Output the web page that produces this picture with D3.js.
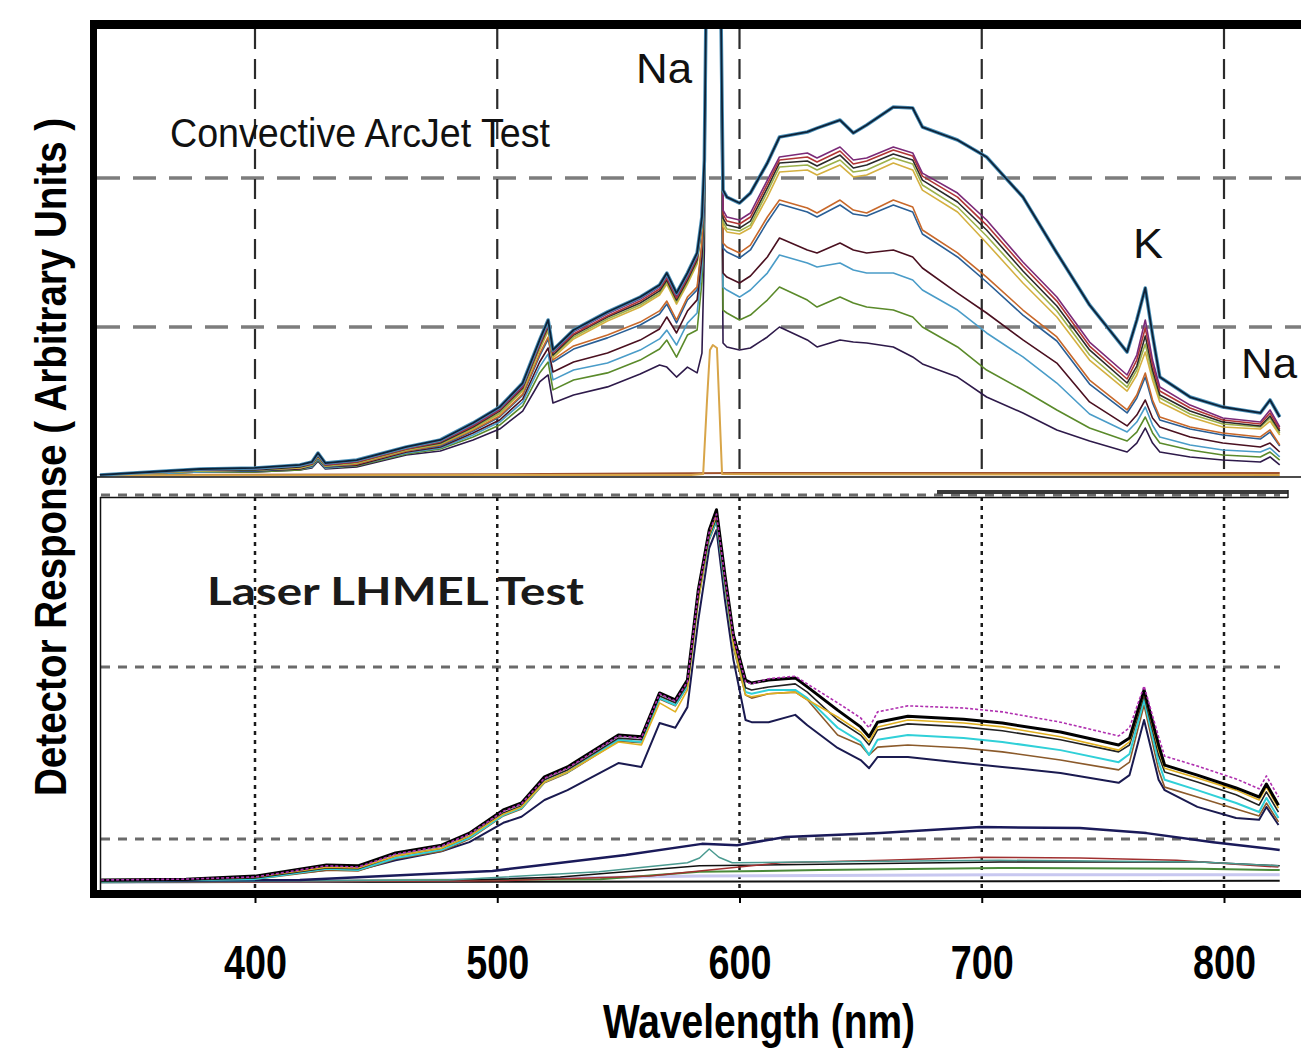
<!DOCTYPE html>
<html>
<head>
<meta charset="utf-8">
<script src="https://cdn.jsdelivr.net/npm/d3@7"></script>
<style>
  body { margin: 0; background: #fff; }
  svg { display: block; }
</style>
</head>
<body>
<svg id="chart" width="1301" height="1052"></svg>
<script>
// ---------------- Convective ArcJet Test (upper panel, counts) ----------------
const arcjetWavelengths = [336, 356.5, 377.5, 400, 418.5, 423.5, 426, 429, 442, 462.5, 476.5, 490, 501, 510.5, 517.5, 521, 523, 531.5, 545.5, 559, 567, 570, 574, 578.5, 582.5, 584.5, 585.5, 586.5, 589, 592, 593.2, 594.8, 600, 604.5, 611.5, 616.5, 628, 632, 641.5, 647, 652.5, 663.5, 671.5, 675.5, 690, 702, 717, 731, 744.5, 760, 764, 767.5, 770.5, 773.5, 786, 799.5, 815, 819, 823];

const arcjetRun01 = [7,27,47,54,74,94,154,87,107,195,242,356,463,624,913,1047,846,980,1101,1201,1282,1362,1228,1362,1497,1738,2121, 3600,4000,3600, 1919,1872,1832,1899,2101,2275,2309,2335,2389,2302,2356,2476,2470,2342,2255,2141,1872,1497,1148,832,1047,1262,946,664,530,463,423,510,396];
const arcjetRun02 = [7,27,40,47,67,87,147,80,100,188,235,343,450,604,893,1027,833,967,1088,1188,1269,1342,1208,1342,1477,1718,2087, 3600,4000,3600, 1785,1738,1718,1765,1986,2141,2168,2134,2208,2121,2134,2208,2168,2033,1899,1718,1436,1201,899,678,812,1047,778,597,476,389,362,443,329];
const arcjetRun03 = [7,20,40,47,67,81,141,74,94,182,229,336,443,597,879,1013,826,953,1074,1174,1255,1328,1194,1328,1463,1704,2067, 3600,4000,3600, 1758,1711,1691,1738,1960,2121,2141,2107,2181,2094,2114,2188,2148,2013,1872,1684,1409,1174,872,651,778,993,745,570,456,376,349,423,315];
const arcjetRun04 = [7,27,40,40,61,81,134,74,94,182,222,329,436,590,873,1000,812,946,1067,1161,1242,1315,1181,1315,1450,1691,2054, 3600,4000,3600, 1731,1684,1664,1711,1933,2101,2114,2080,2154,2067,2087,2161,2121,1986,1839,1651,1376,1141,846,624,738,940,711,544,436,362,336,403,302];
const arcjetRun05 = [7,20,34,40,61,74,134,67,87,175,215,322,423,577,859,987,806,933,1054,1147,1228,1302,1168,1302,1437,1678,2040, 3600,4000,3600, 1705,1658,1644,1684,1906,2074,2087,2054,2121,2040,2054,2134,2094,1953,1805,1611,1342,1107,812,597,711,886,678,523,416,349,329,389,289];
const arcjetRun06 = [7,20,34,40,54,74,127,67,87,175,215,316,416,570,846,973,792,920,1040,1134,1215,1288,1154,1288,1423,1664,2020, 3600,4000,3600, 1678,1638,1624,1664,1872,2040,2054,2020,2087,2007,2020,2101,2054,1919,1772,1564,1295,1067,778,570,678,832,644,497,396,329,315,369,275];
const arcjetRun07 = [7,20,34,40,54,74,127,67,80,168,208,309,403,550,819,933,779,873,947,1033,1108,1174,1047,1201,1269,1570,1953, 3600,4000,3600, 1564,1537,1497,1550,1738,1852,1799,1765,1852,1785,1765,1852,1805,1651,1497,1335,1114,933,644,443,544,691,510,396,329,289,262,309,208];
const arcjetRun08 = [7,20,34,34,54,67,120,60,80,168,202,302,396,543,806,919,765,852,927,1013,1087,1154,1027,1181,1249,1550,1920, 3600,4000,3600, 1530,1503,1463,1517,1705,1825,1772,1738,1819,1758,1745,1819,1772,1624,1470,1302,1080,906,617,423,523,664,490,376,315,275,248,295,201];
const arcjetRun09 = [7,20,34,34,47,67,120,60,73,161,195,289,376,517,765,859,698,765,826,912,987,1067,960,1107,1182,1470,1853, 3600,4000,3600, 1362,1335,1295,1342,1470,1597,1517,1497,1564,1517,1497,1517,1470,1396,1228,1094,913,758,497,336,409,510,389,329,262,221,195,221,161];
const arcjetRun10 = [7,13,27,34,47,60,114,54,73,155,188,275,362,496,732,819,645,712,759,845,920,979,879,1026,1094,1402,1785, 3600,4000,3600, 1268,1248,1201,1248,1362,1483,1429,1403,1429,1382,1362,1362,1315,1248,1114,960,799,624,416,295,362,463,342,262,208,174,161,188,128];
const arcjetRun11 = [7,13,27,27,40,60,107,54,67,148,182,262,342,470,692,765,578,644,692,778,852,912,798,946,980,1302,1718, 3600,4000,3600, 1114,1094,1047,1080,1181,1268,1181,1134,1201,1161,1134,1114,1067,1000,866,711,577,443,322,235,295,396,289,221,174,141,128,161,107];
const arcjetRun12 = [3,13,27,27,40,54,100,47,60,141,168,242,315,436,631,678,490,544,598,684,745,731,664,731,692,825,1517, 3600,4000,3600, 893,866,846,859,933,1000,913,866,913,899,893,866,799,752,664,530,423,309,235,161,221,322,221,161,128,107,94,128,74];

// low-signal runs: only the Na doublet shows, and a near-zero trace
const arcjetNaOnlyWavelengths = [336, 580, 585, 586.6, 587.8, 589, 590.7, 591.9, 592.8, 823];
const arcjetNaOnly = [5, 7, 13, 510, 846, 879, 859, 376, 13, 7];
const arcjetDarkWavelengths = [336, 450, 520, 600, 700, 823];
const arcjetDark = [7, 10, 13, 20, 20, 20];

// ---------------- Laser LHMEL Test (lower panel, counts) ----------------
const lhmelWavelengths = [336.5, 371.5, 400, 429.5, 442.5, 458, 477, 488.5, 502.5, 510, 519.5, 529, 550, 559.5, 567, 573.5, 578.5, 583, 587.5, 590.5, 594, 597.5, 602.5, 605, 612, 623, 628, 640.5, 650, 653.5, 657, 669.5, 692.5, 708.5, 732.5, 756.5, 761, 767, 773, 775.5, 789, 805, 814.5, 817.5, 822.5];

const lhmelRun01 = [7,9,16,42,40,70,88,116,170,186,247,270,344,340,442,426,472,682,821,868,716,577,472,465,472,477,456,402,363,340,374,388,381,372,351,321,337,449,321,274,251,221,200,230,181];
const lhmelRun02 = [7,9,14,40,37,67,86,114,167,184,244,267,342,337,440,423,468,677,816,858,709,572,468,463,475,481,463,419,384,361,398,412,407,398,374,342,361,458,340,295,272,242,219,249,200];
const lhmelRun03 = [7,9,14,37,35,63,81,109,160,177,235,258,328,321,419,398,449,658,809,856,700,554,437,433,440,444,426,386,351,328,363,379,372,363,340,309,328,444,309,267,244,216,193,223,174];
const lhmelRun04 = [5,7,12,35,33,63,81,109,163,179,240,263,337,333,435,419,463,668,807,849,700,563,454,449,456,463,444,379,344,321,356,370,363,354,333,305,321,437,298,258,235,205,181,212,165];
const lhmelRun05 = [5,7,9,33,30,58,77,105,158,174,235,258,333,328,430,414,458,663,802,844,693,554,444,440,449,449,430,361,328,298,333,344,337,328,309,281,300,426,281,240,216,186,165,198,151];
const lhmelRun06 = [5,7,9,30,28,56,74,102,156,172,233,256,330,326,428,412,456,658,798,840,686,547,437,430,440,444,426,344,321,298,316,321,314,305,286,263,281,414,263,223,200,172,156,186,142];
const lhmelRun07 = [5,7,12,30,30,53,74,95,140,154,193,216,279,270,372,361,409,612,779,821,658,519,379,374,374,391,367,314,286,267,293,293,279,270,256,233,251,379,240,216,177,151,147,177,135];

const lhmelBroadWavelengths = [336.5, 418.5, 479.5, 498, 516, 553, 584.5, 599, 619, 658, 699.5, 740.5, 768, 795.5, 823];
const lhmelBroad = [5, 7, 23, 28, 40, 65, 91, 88, 107, 116, 130, 128, 116, 95, 77];
const lhmelWeakNaWavelengths = [336.5, 480, 542, 578.5, 583.5, 587.5, 591.5, 597, 624.5, 707, 790, 822.5];
const lhmelWeakNa = [2, 7, 26, 47, 58, 79, 60, 47, 49, 53, 49, 40];
const lhmelLowAWavelengths = [336.5, 501, 563, 617, 660, 700, 740.5, 780.5, 822.5];
const lhmelLowA = [2, 5, 16, 47, 53, 60, 58, 53, 37];
const lhmelLowBWavelengths = [336.5, 542.5, 583.5, 633, 707.5, 790, 823];
const lhmelLowB = [2, 9, 26, 30, 35, 33, 30];
const lhmelLowCWavelengths = [336.5, 480, 583.5, 707.5, 823];
const lhmelLowC = [2, 7, 16, 19, 19];
const lhmelLowDWavelengths = [336.5, 480, 526, 583.5, 707.5, 790, 823];
const lhmelLowD = [2, 5, 14, 40, 49, 49, 40];
const lhmelDarkWavelengths = [336.5, 823];
const lhmelDark = [2, 5];

// axis / grid values
const wavelengthTicks = [400, 500, 600, 700, 800];
const arcjetGridValues = [1000, 2000];
const lhmelGridValues = [100, 500, 900];

// ---------------- series → styles ----------------
const zip = (xs, ys) => xs.map((w, i) => [w, ys[i]]);

const arcjetSeries = [
  { values: zip(arcjetDarkWavelengths, arcjetDark), color: "#a0522d", width: 2 },
  { values: zip(arcjetWavelengths, arcjetRun12), color: "#2e1a4a", width: 1.6 },
  { values: zip(arcjetWavelengths, arcjetRun11), color: "#5a8a2a", width: 1.6 },
  { values: zip(arcjetWavelengths, arcjetRun10), color: "#4a9cc8", width: 1.6 },
  { values: zip(arcjetWavelengths, arcjetRun09), color: "#4a1020", width: 1.6 },
  { values: zip(arcjetWavelengths, arcjetRun08), color: "#2a5f96", width: 1.6 },
  { values: zip(arcjetWavelengths, arcjetRun07), color: "#c8682a", width: 1.6 },
  { values: zip(arcjetWavelengths, arcjetRun06), color: "#d4b040", width: 1.6 },
  { values: zip(arcjetWavelengths, arcjetRun05), color: "#9bb04a", width: 1.6 },
  { values: zip(arcjetWavelengths, arcjetRun04), color: "#2a2a2a", width: 1.6 },
  { values: zip(arcjetWavelengths, arcjetRun03), color: "#b03535", width: 1.6 },
  { values: zip(arcjetWavelengths, arcjetRun02), color: "#7b2a78", width: 1.6 },
  { values: zip(arcjetNaOnlyWavelengths, arcjetNaOnly), color: "#d8a548", width: 2 },
  { values: zip(arcjetWavelengths, arcjetRun01), color: "#4a90b8", width: 3.6 },
  { values: zip(arcjetWavelengths, arcjetRun01), color: "#0d2238", width: 1.8 }
];

const lhmelSeries = [
  { values: zip(lhmelDarkWavelengths, lhmelDark), color: "#111", width: 2 },
  { values: zip(lhmelLowCWavelengths, lhmelLowC), color: "#c8c8f0", width: 3 },
  { values: zip(lhmelLowBWavelengths, lhmelLowB), color: "#4a8a3a", width: 2 },
  { values: zip(lhmelLowDWavelengths, lhmelLowD), color: "#111", width: 1.5 },
  { values: zip(lhmelLowAWavelengths, lhmelLowA), color: "#a03030", width: 1.5 },
  { values: zip(lhmelWeakNaWavelengths, lhmelWeakNa), color: "#4a9a90", width: 1.5 },
  { values: zip(lhmelBroadWavelengths, lhmelBroad), color: "#1a1a5a", width: 2.5 },
  { values: zip(lhmelWavelengths, lhmelRun07), color: "#1a1a50", width: 2 },
  { values: zip(lhmelWavelengths, lhmelRun06), color: "#8b5a2b", width: 1.6 },
  { values: zip(lhmelWavelengths, lhmelRun05), color: "#30d0d8", width: 2 },
  { values: zip(lhmelWavelengths, lhmelRun04), color: "#222", width: 1.6 },
  { values: zip(lhmelWavelengths, lhmelRun03), color: "#e0b020", width: 1.6 },
  { values: zip(lhmelWavelengths, lhmelRun01), color: "#000", width: 3 },
  { values: zip(lhmelWavelengths, lhmelRun02), color: "#b030b0", width: 1.6, dash: "3,2" }
];

// ---------------- scales ----------------
const svg = d3.select("#chart");
const x = d3.scaleLinear().domain([400, 800]).range([255, 1224]);
const yTop = d3.scaleLinear().domain([0, 3000]).range([476, 29]);
const yBot = d3.scaleLinear().domain([0, 900]).range([883, 496]);

const NARROW = "'Liberation Sans Narrow','Arial Narrow',sans-serif";
const ARIAL = "'Liberation Sans',Arial,sans-serif";

const defs = svg.append("defs");
defs.append("clipPath").attr("id", "clipTop")
  .append("rect").attr("x", 97).attr("y", 29).attr("width", 1204).attr("height", 448);
defs.append("clipPath").attr("id", "clipBot")
  .append("rect").attr("x", 101).attr("y", 497).attr("width", 1200).attr("height", 392);

// ---------------- upper panel ----------------
const arcjetPanel = svg.append("g");
// horizontal dashed grid
arcjetPanel.selectAll("line.hgrid").data(arcjetGridValues).join("line")
  .attr("class", "hgrid")
  .attr("x1", 97).attr("x2", 1301)
  .attr("y1", d => yTop(d)).attr("y2", d => yTop(d))
  .attr("stroke", "#7d7d7d").attr("stroke-width", 3.5).attr("stroke-dasharray", "23,13");
// vertical dashed grid
arcjetPanel.selectAll("line.vgrid").data(wavelengthTicks).join("line")
  .attr("class", "vgrid")
  .attr("x1", d => x(d)).attr("x2", d => x(d))
  .attr("y1", 29).attr("y2", 476)
  .attr("stroke", "#2b2b2b").attr("stroke-width", 2.2).attr("stroke-dasharray", "20,10");

const lineTop = d3.line().x(d => x(d[0])).y(d => yTop(d[1]));
arcjetPanel.append("g").attr("clip-path", "url(#clipTop)")
  .selectAll("path").data(arcjetSeries).join("path")
  .attr("d", d => lineTop(d.values))
  .attr("fill", "none")
  .attr("stroke", d => d.color)
  .attr("stroke-width", d => d.width)
  .attr("stroke-linejoin", "round");

// panel base line
arcjetPanel.append("line").attr("x1", 97).attr("x2", 1301).attr("y1", 477).attr("y2", 477)
  .attr("stroke", "#111").attr("stroke-width", 1.5);

arcjetPanel.append("text").text("Convective ArcJet Test")
  .attr("x", 170).attr("y", 147)
  .attr("font-family", NARROW).attr("font-size", 41).attr("fill", "#111")
  .attr("textLength", 380).attr("lengthAdjust", "spacingAndGlyphs");

const peakLabels = [
  { text: "Na", x: 636, y: 83, w: 56 },
  { text: "K", x: 1133, y: 258, w: 30 },
  { text: "Na", x: 1241, y: 378, w: 56 }
];
arcjetPanel.selectAll("text.peak").data(peakLabels).join("text")
  .attr("class", "peak")
  .text(d => d.text)
  .attr("x", d => d.x).attr("y", d => d.y)
  .attr("font-family", ARIAL).attr("font-size", 42).attr("fill", "#111")
  .attr("textLength", d => d.w).attr("lengthAdjust", "spacingAndGlyphs");

// ---------------- lower panel ----------------
const lhmelPanel = svg.append("g");
lhmelPanel.append("text").text("Laser LHMEL Test")
  .attr("x", 207).attr("y", 605)
  .attr("font-family", "Lato,'Open Sans',sans-serif").attr("font-weight", 700)
  .attr("font-size", 39).attr("fill", "#1a1a1a")
  .attr("textLength", 377).attr("lengthAdjust", "spacingAndGlyphs");

lhmelPanel.selectAll("line.hgrid").data(lhmelGridValues).join("line")
  .attr("class", "hgrid")
  .attr("x1", 101).attr("x2", 1280)
  .attr("y1", d => yBot(d) - 1).attr("y2", d => yBot(d) - 1)
  .attr("stroke", "#6a6a6a").attr("stroke-width", 3).attr("stroke-dasharray", "9,8");
lhmelPanel.selectAll("line.vgrid").data(wavelengthTicks).join("line")
  .attr("class", "vgrid")
  .attr("x1", d => x(d)).attr("x2", d => x(d))
  .attr("y1", 497).attr("y2", 889)
  .attr("stroke", "#1a1a1a").attr("stroke-width", 2.5).attr("stroke-dasharray", "4,5");

const lineBot = d3.line().x(d => x(d[0])).y(d => yBot(d[1]));
lhmelPanel.append("g").attr("clip-path", "url(#clipBot)")
  .selectAll("path").data(lhmelSeries).join("path")
  .attr("d", d => lineBot(d.values))
  .attr("fill", "none")
  .attr("stroke", d => d.color)
  .attr("stroke-width", d => d.width)
  .attr("stroke-dasharray", d => d.dash || null)
  .attr("stroke-linejoin", "round");

// inner frame of the lower panel
lhmelPanel.append("line").attr("x1", 100).attr("x2", 1288).attr("y1", 497.5).attr("y2", 497.5)
  .attr("stroke", "#111").attr("stroke-width", 1.5);
lhmelPanel.append("rect").attr("x", 937).attr("y", 490).attr("width", 351).attr("height", 4)
  .attr("fill", "#3a3a3a");
lhmelPanel.append("line").attr("x1", 1288).attr("x2", 1288).attr("y1", 490).attr("y2", 498)
  .attr("stroke", "#222").attr("stroke-width", 1.5);
lhmelPanel.append("line").attr("x1", 100.5).attr("x2", 100.5).attr("y1", 497).attr("y2", 890)
  .attr("stroke", "#111").attr("stroke-width", 1.5);

// ---------------- outer frame ----------------
const frame = svg.append("g").attr("fill", "#000");
frame.append("rect").attr("x", 90).attr("y", 20).attr("width", 1211).attr("height", 9);
frame.append("rect").attr("x", 90).attr("y", 20).attr("width", 7).attr("height", 878);
frame.append("rect").attr("x", 90).attr("y", 890).attr("width", 1211).attr("height", 8);

// ---------------- x axis ----------------
const xAxis = d3.axisBottom(x).tickValues(wavelengthTicks).tickSize(5).tickPadding(42)
  .tickFormat(d3.format("d"));
const axisG = svg.append("g").attr("transform", "translate(0,898)").call(xAxis);
axisG.select(".domain").remove();
axisG.selectAll(".tick line").attr("stroke", "#000").attr("stroke-width", 2);
axisG.selectAll(".tick text")
  .attr("font-family", NARROW).attr("font-weight", 700).attr("font-size", 48)
  .attr("fill", "#000")
  .attr("textLength", 63).attr("lengthAdjust", "spacingAndGlyphs");

svg.append("text").text("Wavelength (nm)")
  .attr("x", 759).attr("y", 1038).attr("text-anchor", "middle")
  .attr("font-family", NARROW).attr("font-weight", 700).attr("font-size", 48)
  .attr("fill", "#000")
  .attr("textLength", 312).attr("lengthAdjust", "spacingAndGlyphs");

svg.append("text").text("Detector Response ( Arbitrary Units )")
  .attr("transform", "translate(66,457) rotate(-90)")
  .attr("text-anchor", "middle")
  .attr("font-family", NARROW).attr("font-weight", 700).attr("font-size", 44)
  .attr("fill", "#000")
  .attr("textLength", 678).attr("lengthAdjust", "spacingAndGlyphs");
</script>
</body>
</html>
